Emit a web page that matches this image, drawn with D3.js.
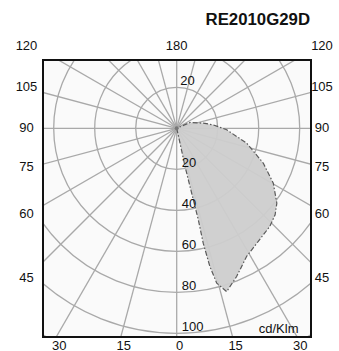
<!DOCTYPE html>
<html><head><meta charset="utf-8">
<script src="https://cdn.jsdelivr.net/npm/d3@7"></script>
<style>body{margin:0;background:#fff;} svg{display:block;font-family:"Liberation Sans",Arial,sans-serif;}</style>
</head><body>
<script>
// ---- data ----
const title = "RE2010G29D";
const unitLabel = "cd/Klm";
// gamma angle (deg from nadir, toward right) and intensity (cd/klm)
const gamma =     [0, 12.6, 12.3, 13.0, 13.3, 13.0, 13.5, 14.5, 17.0, 22.0, 28.6, 35.8, 43.5, 48.7, 53.2, 60.4, 68.1, 78.0, 88.3, 95.5, 101.0, 113.6];
const intensity = [0, 7.4, 19.0, 32.4, 45.9, 57.5, 69.3, 78.0, 83.3, 78.0, 71.2, 68.0, 66.0, 63.9, 61.0, 54.2, 45.5, 34.9, 24.4, 17.8, 13.2, 7.1];
const ringValues = [20, 40, 60, 80, 100, 120, 140];
const ringLabels = [20, 40, 60, 80, 100];
const sideTicks = [120, 105, 90, 75, 60, 45];
const bottomTicks = [30, 15, 0, 15, 30];
const bottomSigned = [-30, -15, 0, 15, 30];

// ---- layout ----
const W = 339, H = 351;
const frame = {x: 43, y: 60, w: 268, h: 277};
const cx = 176.7, cy = 128.3;
const r = d3.scaleLinear().domain([0, 100]).range([0, 205]);
const toRad = d => d * Math.PI / 180;

const svg = d3.select("body").append("svg").attr("width", W).attr("height", H);

svg.append("defs").append("clipPath").attr("id", "clip")
  .append("rect").attr("x", frame.x).attr("y", frame.y).attr("width", frame.w).attr("height", frame.h);

svg.append("rect").attr("x", frame.x).attr("y", frame.y).attr("width", frame.w).attr("height", frame.h)
  .attr("fill", "#fafafa");

const plot = svg.append("g").attr("clip-path", "url(#clip)");
const g = plot.append("g").attr("transform", `translate(${cx},${cy})`);

// grid circles
g.selectAll("circle.ring").data(ringValues).join("circle")
  .attr("r", d => r(d)).attr("fill", "none").attr("stroke", "#a9a9a9").attr("stroke-width", 1.3);

// radial lines every 15 deg
const spokes = d3.range(0, 360, 15);
g.selectAll("line.spoke").data(spokes).join("line")
  .attr("x1", 0).attr("y1", 0)
  .attr("x2", d => r(200) * Math.sin(toRad(d)))
  .attr("y2", d => r(200) * Math.cos(toRad(d)))
  .attr("stroke", "#a9a9a9").attr("stroke-width", 1.3);

// curve
const pts = gamma.map((a, i) => [Math.PI - toRad(a), r(intensity[i])]);
const line = d3.lineRadial().angle(d => d[0]).radius(d => d[1]).curve(d3.curveLinearClosed);
g.append("path").attr("d", line(pts))
  .attr("fill", "#cecece").attr("fill-opacity", 0.95)
  .attr("stroke", "#5a5a5a").attr("stroke-width", 1.2)
  .attr("stroke-dasharray", "5,2,1.5,2");

// center dot
g.append("circle").attr("r", 2).attr("fill", "#777");

// ring labels (below center)
g.selectAll("text.rl").data(ringLabels).join("text")
  .attr("x", 5).attr("y", d => r(d) - 2.5)
  .attr("font-size", 13).attr("fill", "#111").text(d => d);
// top ring label
g.append("text").attr("x", 3.5).attr("y", -r(20) - 2.5)
  .attr("font-size", 13).attr("fill", "#111").text(ringLabels[0]);

// frame
svg.append("rect").attr("x", frame.x).attr("y", frame.y).attr("width", frame.w).attr("height", frame.h)
  .attr("fill", "none").attr("stroke", "#111").attr("stroke-width", 2);

// side tick labels
const sideY = d3.scaleOrdinal().domain(sideTicks).range([50, 90.5, 131.5, 170.5, 217.5, 281.5]);
[[26.5], [322]].forEach(([x]) => {
  svg.append("g").selectAll("text").data(sideTicks).join("text")
    .attr("x", x).attr("y", d => sideY(d)).attr("text-anchor", "middle")
    .attr("font-size", 13).attr("fill", "#111").text(d => d);
});
svg.append("text").attr("x", cx).attr("y", 50).attr("text-anchor", "middle")
  .attr("font-size", 13).attr("fill", "#111").text(180);

// bottom tick labels
const bottomDist = frame.y + frame.h - cy;
svg.append("g").selectAll("text").data(bottomSigned).join("text")
  .attr("x", d => cx + 3 + Math.tan(toRad(d)) * bottomDist)
  .attr("y", 349.5).attr("text-anchor", "middle")
  .attr("font-size", 13).attr("fill", "#111").text((d, i) => bottomTicks[i]);

// unit label
svg.append("text").attr("x", 298.5).attr("y", 333).attr("text-anchor", "end")
  .attr("font-size", 13).attr("fill", "#111").text(unitLabel);

// title
svg.append("text").attr("x", 310).attr("y", 25).attr("text-anchor", "end")
  .attr("font-size", 16.8).attr("font-weight", "bold").attr("fill", "#111").text(title);
</script>
</body></html>
